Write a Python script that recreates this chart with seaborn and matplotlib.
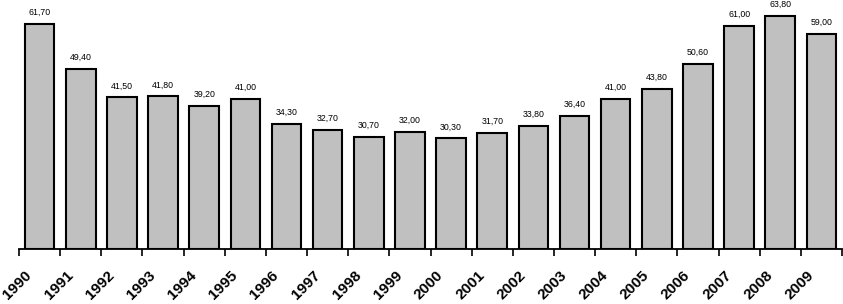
import numpy as np
import matplotlib
matplotlib.use('Agg')
import matplotlib.pyplot as plt
import matplotlib.transforms as mtransforms
import seaborn as sns

years = [str(y) for y in range(1990, 2010)]
values = [61.7, 49.4, 41.5, 41.8, 39.2, 41.0, 34.3, 32.7, 30.7, 32.0,
          30.3, 31.7, 33.8, 36.4, 41.0, 43.8, 50.6, 61.0, 63.8, 59.0]

sns.set_style('white')
plt.rcParams['font.family'] = ['Liberation Sans', 'DejaVu Sans']
plt.rcParams['text.color'] = 'black'
plt.rcParams['xtick.color'] = 'black'
plt.rcParams['axes.edgecolor'] = 'black'

fig = plt.figure(figsize=(8.43, 3.04), dpi=100)
ax = fig.add_axes([19 / 843, 55 / 304, 823 / 843, 249 / 304])
sns.barplot(x=years, y=values, color='#c0c0c0', edgecolor='black',
            linewidth=1.5, width=0.72, saturation=1, ax=ax)

ax.set_xlim(-0.5, len(years) - 0.5)
ax.set_ylim(0, 68.2)
ax.set_yticks([])
for s in ['top', 'right', 'left']:
    ax.spines[s].set_visible(False)
ax.spines['bottom'].set_linewidth(1.3)

# value labels
for i, v in enumerate(values):
    ax.annotate('{:.2f}'.format(v).replace('.', ','), (i, v),
                xytext=(0, 7), textcoords='offset pixels',
                ha='center', va='bottom', fontsize=6.3, color='black')

# ticks at category boundaries, labels at centers
ax.set_xticks(np.arange(-0.5, len(years)), minor=False)
ax.set_xticklabels([])
ax.tick_params(axis='x', which='major', length=5, width=1.2, color='black', direction='out', bottom=True)
ax.set_xticks(np.arange(len(years)), minor=True)
ax.set_xticklabels(years, minor=True, fontsize=11, fontweight='bold', color='black')
ax.tick_params(axis='x', which='minor', length=0, pad=17.5)
offset = mtransforms.ScaledTranslation(-10 / 100, 0, fig.dpi_scale_trans)
for lab in ax.get_xticklabels(minor=True):
    lab.set_rotation(45)
    lab.set_ha('right')
    lab.set_va('center')
    lab.set_rotation_mode('anchor')
    lab.set_transform(lab.get_transform() + offset)

ax.set_xlabel('')
ax.set_ylabel('')
fig.savefig('out.png', dpi=100)
